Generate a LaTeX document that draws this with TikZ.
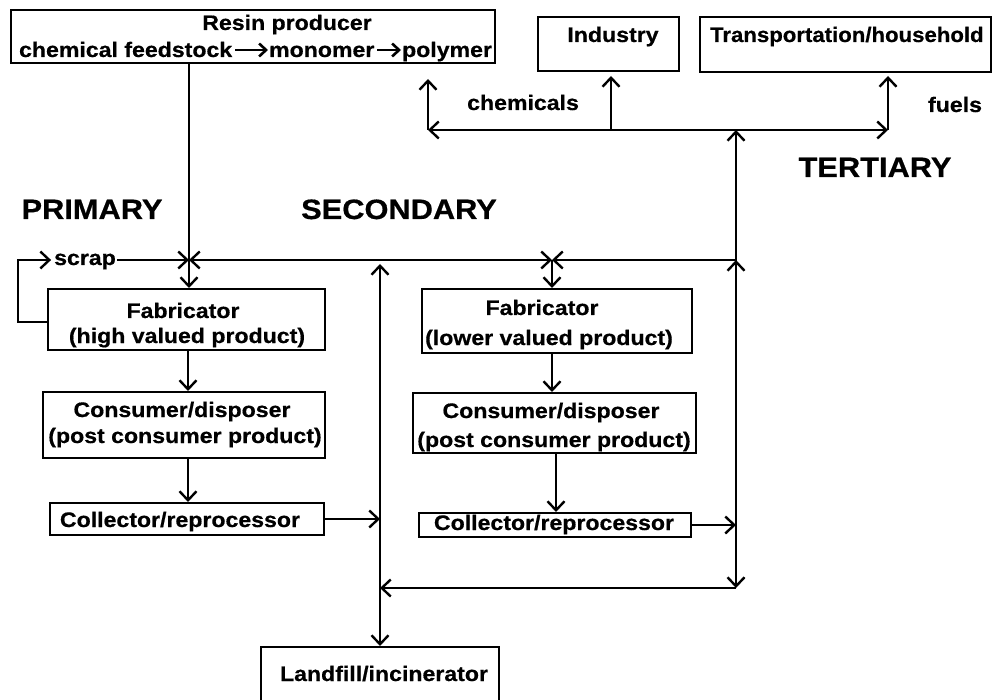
\documentclass[tikz,border=0pt]{standalone}
\usepackage{graphicx}
\usepackage{fontspec}
\setmainfont{Liberation Sans}[FakeStretch=1.1,FakeBold=0.6]
\usetikzlibrary{arrows.meta}
\begin{document}
\begin{tikzpicture}[x=1pt,y=-1pt,line width=2.2pt,
  >={Straight Barb[length=9pt,width=17pt,line width=2.4pt]},
  box/.style={draw,line width=2pt,inner sep=0pt},
  txt/.style={font=\fontsize{21}{24}\selectfont\bfseries,inner sep=0pt,anchor=base},
  big/.style={font=\fontsize{28}{32}\selectfont\bfseries,inner sep=0pt,anchor=base},
  txtarrow/.style={-{Straight Barb[length=7pt,width=13pt,line width=2.6pt]},line width=2.6pt}]
\clip (0,0) rectangle (995,700);
% boxes
\node[box,minimum width=484pt,minimum height=53pt] (resin) at (253,36.5) {};
\node[box,minimum width=141pt,minimum height=54pt] (industry) at (608.5,44) {};
\node[box,minimum width=291pt,minimum height=55pt] (transport) at (845.5,44.5) {};
\node[box,minimum width=277pt,minimum height=61pt] (fab1) at (186.5,319.5) {};
\node[box,minimum width=270pt,minimum height=64pt] (fab2) at (557,321) {};
\node[box,minimum width=282pt,minimum height=66pt] (cons1) at (184,425) {};
\node[box,minimum width=283pt,minimum height=60pt] (cons2) at (554.5,423) {};
\node[box,minimum width=274pt,minimum height=32pt] (coll1) at (187,519) {};
\node[box,minimum width=272pt,minimum height=24pt] (coll2) at (555,525) {};
\node[box,minimum width=238pt,minimum height=65pt] (landfill) at (380,679.5) {};
% texts
\node[txt] (tresin) at (287,30) {Resin producer};
\node[txt,anchor=base west] (tfeed) at (18,57) {chemical feedstock};
\node[txt,anchor=base west] (tmono) at (268,57) {monomer};
\node[txt,anchor=base west] (tpoly) at (401,57) {polymer};
\node[txt] (tind) at (613,42) {Industry};
\node[txt,anchor=base west] (ttrans) at (709,42) {\scalebox{0.96}[1]{Transportation/household}};
\node[txt,anchor=base east] (tchem) at (580,110) {chemicals};
\node[txt] (tfuels) at (955,112) {fuels};
\node[big] (ttert) at (875,177) {TERTIARY};
\node[big] (tprim) at (92,219) {PRIMARY};
\node[big] (tsec) at (399,219) {SECONDARY};
\node[txt] (scrap) at (85,265) {scrap};
\node[txt] (tfab1a) at (183,318) {Fabricator};
\node[txt] (tfab1b) at (187,343) {(high valued product)};
\node[txt] (tfab2a) at (542,315) {Fabricator};
\node[txt] (tfab2b) at (549,345) {(lower valued product)};
\node[txt] (tcons1a) at (182,417) {Consumer/disposer};
\node[txt] (tcons1b) at (185,443) {(post consumer product)};
\node[txt] (tcons2a) at (551,418) {Consumer/disposer};
\node[txt] (tcons2b) at (554,447) {(post consumer product)};
\node[txt] (tcoll1) at (180,527) {Collector/reprocessor};
\node[txt] (tcoll2) at (554,530) {Collector/reprocessor};
\node[txt] (tland) at (384,681) {Landfill/incinerator};
% arrows inside resin text
\draw[txtarrow] ([shift={(2,-7)}]tfeed.base east) -- ([shift={(0,-7)}]tmono.base west);
\draw[txtarrow] ([shift={(2,-7)}]tmono.base east) -- ([shift={(0,-7)}]tpoly.base west);
% junction coordinates
\coordinate (j1) at (189,260);
\coordinate (j2) at (552,260);
\coordinate (jr) at (736,260);
\coordinate (jt) at (736,130);
\coordinate (cl) at (428,130);
\coordinate (cr) at (888,130);
\coordinate (ci) at (611,130);
\coordinate (lb) at (736,588);
\coordinate (ll) at (380,588);
\coordinate (lt) at (380,264);
% primary / secondary
\draw[->] (resin.south -| j1) -- (fab1.north -| j1);
\draw[->] (fab1.west |- 0,322) -- (18,322) -- (18,260) -- ([xshift=-2pt]scrap.west |- j1);
\draw[->] (scrap.east |- j1) -- (j1);
\draw[<->] (j1) -- (j2);
\draw[->] (jr) -- (j2);
\draw[->] (j2) -- (fab2.north -| j2);
\draw[->] (fab1.south -| 188,0) -- (cons1.north -| 188,0);
\draw[->] (cons1.south -| 188,0) -- (coll1.north -| 188,0);
\draw[->] (fab2.south -| 552,0) -- (cons2.north -| 552,0);
\draw[->] (cons2.south -| 556,0) -- (coll2.north -| 556,0);
\draw[->] (coll1.east) -- (coll1.east -| lt);
\draw[->] (coll2.east) -- (coll2.east -| jr);
\draw[<->] (lt) -- (landfill.north -| lt);
\draw[<->] (lb) -- (jt);
\draw[->] ([yshift=-40pt]jr) -- (jr);
\draw[->] (lb) -- (ll);
% tertiary
\draw[->] (jt) -- (cl);
\draw[->] (jt) -- (cr);
\draw[->,shorten >=15pt] (cl) -- (resin.south -| cl);
\draw[->,shorten >=3pt] (cr) -- (transport.south -| cr);
\draw[->,shorten >=4pt] (ci) -- (industry.south -| ci);
\end{tikzpicture}
\end{document}
